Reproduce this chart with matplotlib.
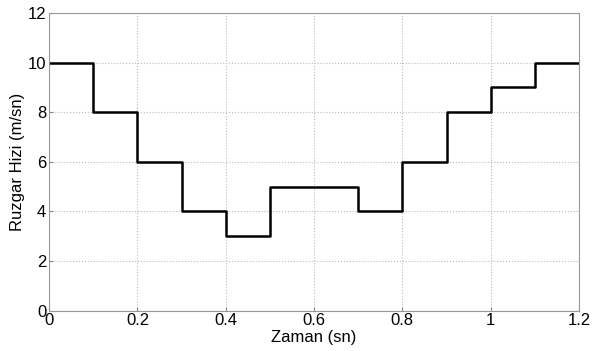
import matplotlib
matplotlib.use("Agg")
import matplotlib.pyplot as plt

# step edges (time, s) and wind speed on each step
zaman = [0, 0.1, 0.2, 0.3, 0.4, 0.5, 0.7, 0.8, 0.9, 1.0, 1.1, 1.2]
hiz = [10, 8, 6, 4, 3, 5, 4, 6, 8, 9, 10, 10]

plt.rcParams['font.family'] = ['Liberation Sans', 'DejaVu Sans']

fig = plt.figure(figsize=(5.92, 3.51), dpi=100)
ax = fig.add_axes([0.083, 0.115, 0.895, 0.848])
ax.step(zaman, hiz, where='post', color='black', linewidth=1.8)

ax.set_xlim(0, 1.2)
ax.set_ylim(0, 12)
ax.set_xticks([0, 0.2, 0.4, 0.6, 0.8, 1, 1.2])
ax.set_xticklabels(['0', '0.2', '0.4', '0.6', '0.8', '1', '1.2'])
ax.set_yticks([0, 2, 4, 6, 8, 10, 12])
ax.grid(True, color='#bbbbbb', linestyle=':', linewidth=0.8)
ax.tick_params(direction='in', length=3, color='#888888', labelsize=12, pad=2)
for s in ax.spines.values():
    s.set_color('#999999')
ax.set_xlabel('Zaman (sn)', fontsize=12, labelpad=1)
ax.set_ylabel('Ruzgar Hizi (m/sn)', fontsize=12, labelpad=2)

fig.savefig('out.png', dpi=100)
